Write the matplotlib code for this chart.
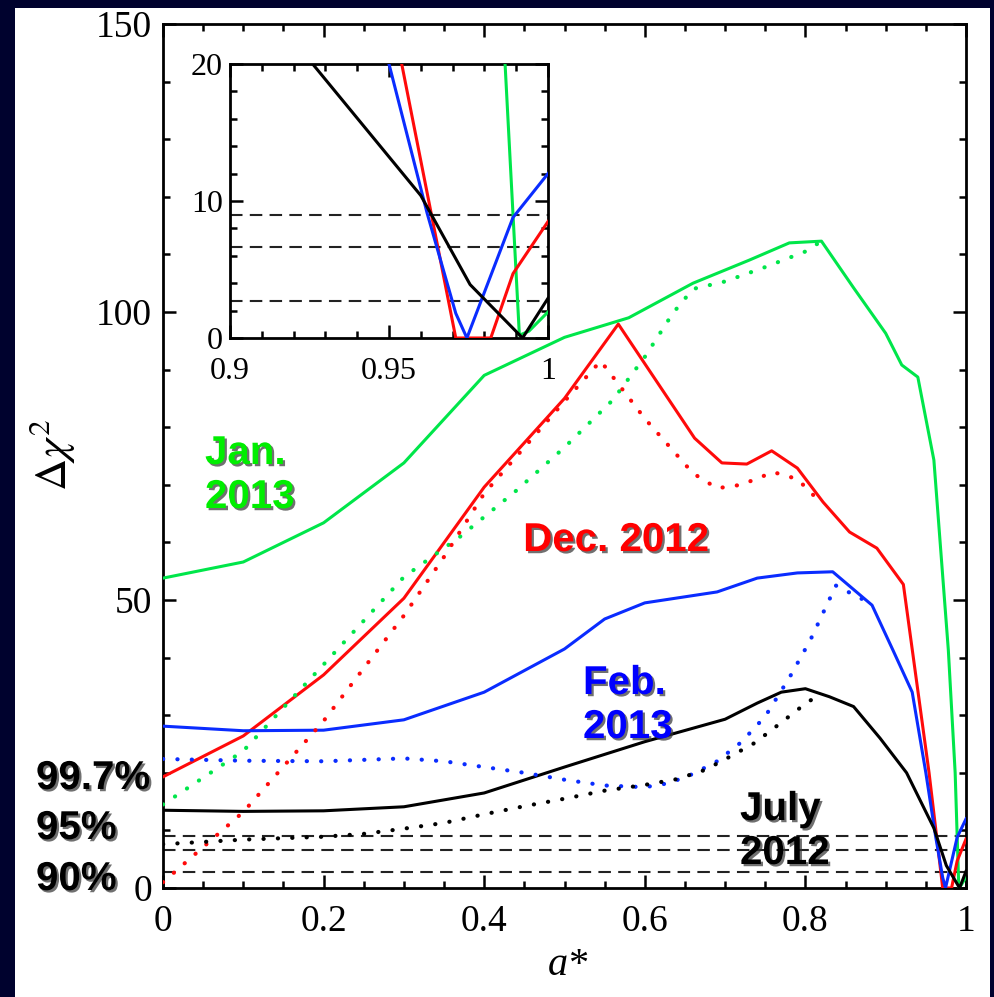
import matplotlib
matplotlib.use("Agg")
import matplotlib.pyplot as plt
import matplotlib.patheffects as pe
from matplotlib.patches import Rectangle
from matplotlib.ticker import MultipleLocator

plt.rcParams['font.family'] = 'Liberation Serif'
plt.rcParams['mathtext.fontset'] = 'stix'

# --- data ---
jan_x = [0, 0.1, 0.2, 0.3, 0.4, 0.5, 0.58, 0.66, 0.73, 0.78, 0.82, 0.86, 0.9, 0.92, 0.94, 0.96, 0.978, 0.9865, 0.991, 0.994, 1.0]
jan_y = [53.8, 56.6, 63.4, 73.8, 89, 95.6, 99, 105, 109, 112, 112.3, 104.2, 96.3, 90.8, 88.7, 74.3, 41.3, 20, 0.2, 0.5, 1.9]
jan_dot_x = [0, 0.1, 0.2, 0.3, 0.37, 0.44, 0.5, 0.56, 0.6, 0.635, 0.66, 0.7, 0.75, 0.8, 0.82]
jan_dot_y = [14.5, 23.8, 38.8, 54, 61, 69, 76.5, 84.7, 92.2, 99.8, 104, 105.3, 107.8, 110.5, 112.3]

dec_x = [0, 0.1, 0.2, 0.3, 0.4, 0.5, 0.567, 0.662, 0.696, 0.727, 0.758, 0.79, 0.822, 0.855, 0.889, 0.922, 0.954, 0.971, 0.982, 0.989, 1.0]
dec_y = [19.3, 26.4, 37, 50.3, 69.6, 85, 97.9, 78.1, 73.8, 73.6, 75.9, 72.9, 67, 61.8, 59, 52.7, 20, 0, 0, 4.7, 8.5]
dec_dot_x = [0, 0.1, 0.2, 0.3, 0.35, 0.4, 0.5, 0.545, 0.6, 0.66, 0.69, 0.72, 0.76, 0.79, 0.81]
dec_dot_y = [1.0, 13.2, 29, 47.3, 57.5, 68.5, 84.5, 91.5, 81.5, 72, 69.4, 70, 72.2, 71, 68.2]

feb_x = [0, 0.1, 0.2, 0.3, 0.4, 0.5, 0.55, 0.6, 0.69, 0.74, 0.79, 0.834, 0.883, 0.909, 0.933, 0.95, 0.962, 0.971, 0.9745, 0.989, 1.0]
feb_y = [28.1, 27.3, 27.4, 29.2, 34, 41.5, 46.7, 49.5, 51.4, 53.8, 54.7, 54.9, 49.1, 41.3, 34, 20, 9.1, 1.8, 0, 8.8, 12]
feb_dot_x = [0, 0.1, 0.2, 0.3, 0.35, 0.4, 0.45, 0.5, 0.55, 0.6, 0.63, 0.66, 0.69, 0.72, 0.75, 0.78, 0.806, 0.838, 0.87]
feb_dot_y = [22.4, 22.1, 22, 22.5, 22, 21, 20, 18.8, 17.8, 17.5, 18.2, 19.8, 22, 25.3, 29.8, 36.5, 43, 52.5, 50.2]

july_x = [0, 0.1, 0.2, 0.3, 0.4, 0.5, 0.6, 0.7, 0.74, 0.77, 0.8, 0.83, 0.86, 0.893, 0.926, 0.96, 0.9755, 0.992, 1.0]
july_y = [13.5, 13.3, 13.4, 14.1, 16.5, 21, 25.4, 29.3, 32.1, 34, 34.6, 33.2, 31.5, 26, 20, 10.4, 3.9, 0, 2.9]
july_dot_x = [0, 0.1, 0.2, 0.25, 0.3, 0.35, 0.4, 0.45, 0.5, 0.55, 0.6, 0.64, 0.675, 0.706, 0.737, 0.766, 0.8, 0.82]
july_dot_y = [7.6, 8.4, 8.9, 9.4, 10.3, 11.3, 12.8, 14.2, 15.5, 16.9, 17.9, 18.9, 20.5, 22.8, 25.2, 28.3, 32, 33.8]

conf_levels = [2.71, 6.63, 9.0]
conf_labels = ['99.7%', '95%', '90%']

GREEN = '#00e64a'
RED = '#ff0a0a'
BLUE = '#0a2cff'
BLACK = 'black'

solid = [(jan_x, jan_y, GREEN), (dec_x, dec_y, RED), (feb_x, feb_y, BLUE), (july_x, july_y, BLACK)]
dotted = [(jan_dot_x, jan_dot_y, GREEN), (dec_dot_x, dec_dot_y, RED), (feb_dot_x, feb_dot_y, BLUE), (july_dot_x, july_dot_y, BLACK)]

W, H = 994, 997
fig = plt.figure(figsize=(W / 100, H / 100), dpi=100)
fig.patch.set_facecolor('#00022e')
fig.add_artist(Rectangle((15 / W, 0), 975 / W, (H - 8) / H, transform=fig.transFigure,
                         facecolor='white', edgecolor='none', zorder=0))


def style_axes(ax, fs, pad_x, pad_y):
    for s in ax.spines.values():
        s.set_linewidth(2.0)
    ax.tick_params(which='both', direction='in', top=True, right=True, width=1.8)
    ax.tick_params(which='major', length=9.5)
    ax.tick_params(which='minor', length=5)
    ax.tick_params(axis='x', labelsize=fs, pad=pad_x)
    ax.tick_params(axis='y', labelsize=fs, pad=pad_y)


ax = fig.add_axes([163 / W, 1 - 888 / H, 803 / W, 864 / H])
for xs, ys, c in solid:
    ax.plot(xs, ys, '-', color=c, lw=2.2, zorder=3)
for xs, ys, c in dotted:
    ax.plot(xs, ys, color=c, lw=3.0, linestyle=(0, (0.05, 3.4)), dash_capstyle='round', zorder=3)
for lv in conf_levels:
    ax.axhline(lv, color='#222222', lw=1.5, linestyle=(0, (6, 3.5)), zorder=2)
ax.set_xlim(0, 1)
ax.set_ylim(0, 150)
ax.xaxis.set_minor_locator(MultipleLocator(0.05))
ax.yaxis.set_minor_locator(MultipleLocator(10))
ax.set_xticks([0, 0.2, 0.4, 0.6, 0.8, 1])
ax.set_xticklabels(['0', '0.2', '0.4', '0.6', '0.8', '1'])
ax.set_yticks([0, 50, 100, 150])
ax.set_yticklabels(['0', '50', '100', '150'])
style_axes(ax, 27, 12, 8)

fig.text(52 / W, 1 - 455 / H, r'$\Delta\chi^2$', rotation=90, fontsize=32, ha='center', va='center')
fig.text(568 / W, 1 - 965 / H, 'a*', fontsize=29, style='italic', ha='center', va='center')

# inset
ins = fig.add_axes([230 / W, 1 - 338 / H, 318 / W, 274 / H])
ins.set_facecolor('white')
for xs, ys, c in solid:
    ins.plot(xs, ys, '-', color=c, lw=2.2, zorder=3)
for lv in conf_levels:
    ins.axhline(lv, color='#222222', lw=1.5, linestyle=(0, (6, 3.5)), zorder=2)
ins.set_xlim(0.9, 1)
ins.set_ylim(0, 20)
ins.set_xticks([0.9, 0.95, 1.0])
ins.set_xticklabels(['0.9', '0.95', '1'])
ins.xaxis.set_minor_locator(MultipleLocator(0.01))
ins.set_yticks([0, 10, 20])
ins.set_yticklabels(['0', '10', '20'])
ins.yaxis.set_minor_locator(MultipleLocator(2))
style_axes(ins, 23, 14, 5)

# annotations
shadow = [pe.withSimplePatchShadow(offset=(1.6, -1.6), shadow_rgbFace='#333333', alpha=0.7)]
sans = dict(family='Liberation Sans', fontweight='bold', fontsize=29, path_effects=shadow,
            linespacing=1.2)
fig.text(205 / W, 1 - 475 / H, 'Jan.\n2013', color='#00ee00', ha='left', va='center', **sans)
fig.text(616 / W, 1 - 540 / H, 'Dec. 2012', color='#ff0000', ha='center', va='center', **sans)
fig.text(583 / W, 1 - 705 / H, 'Feb.\n2013', color='#0000ff', ha='left', va='center', **sans)
fig.text(740 / W, 1 - 831 / H, 'July\n2012', color='black', ha='left', va='center', **sans)
for txt, yp in zip(conf_labels, [778, 828, 879]):
    fig.text(36 / W, 1 - yp / H, txt, color='black', ha='left', va='center', **sans)

fig.savefig('out.png', dpi=100, facecolor=fig.get_facecolor())
